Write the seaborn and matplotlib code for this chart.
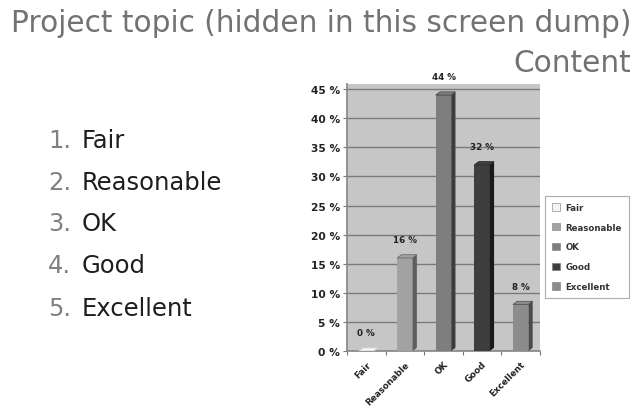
import matplotlib
matplotlib.use("Agg")
import matplotlib.pyplot as plt
from matplotlib.patches import Polygon, Patch
import seaborn as sns

# Survey answers for the "Content" question
categories = ["Fair", "Reasonable", "OK", "Good", "Excellent"]
values = [0, 16, 44, 32, 8]
yticks = [0, 5, 10, 15, 20, 25, 30, 35, 40, 45]
ytick_labels = [f"{v} %" for v in yticks]
list_items = ["Fair", "Reasonable", "OK", "Good", "Excellent"]

front_colors = ["#f4f4f4", "#a2a2a2", "#7e7e7e", "#3e3e3e", "#8c8c8c"]
side_colors = ["#c8c8c8", "#5e5e5e", "#3c3c3c", "#1a1a1a", "#4a4a4a"]

sns.set_theme(style="white")
plt.rcParams["font.family"] = ["DejaVu Sans"]

fig = plt.figure(figsize=(6.36, 4.10), dpi=100)
fig.patch.set_facecolor("white")

# Slide heading
fig.text(0.993, 1 - 32 / 410, "Project topic (hidden in this screen dump)",
         ha="right", va="baseline", fontsize=21.3, color="#727272")
fig.text(0.993, 1 - 72 / 410, "Content", ha="right", va="baseline",
         fontsize=21.3, color="#727272")

# Numbered answer list
list_base = [148, 190, 231, 273, 316]
for i, (item, yp) in enumerate(zip(list_items, list_base)):
    fy = 1 - yp / 410
    fig.text(48 / 636, fy, f"{i + 1}.", ha="left", va="baseline", fontsize=17.5,
             color="#808080")
    fig.text(82 / 636, fy, item, ha="left", va="baseline", fontsize=17.5,
             color="#1e1e1e")

# Bar chart
ax = fig.add_axes([347 / 636, 1 - 352 / 410, (540 - 347) / 636, (352 - 85) / 410])
ax.set_facecolor("#c6c6c6")
sns.barplot(x=categories, y=values, hue=categories, palette=front_colors,
            legend=False, width=0.4, ax=ax, linewidth=0, saturation=1, zorder=3)

ax.set_xlim(-0.5, 4.5)
ax.set_ylim(0, 45.9)
ax.set_yticks(yticks)
ax.set_yticklabels(ytick_labels, fontsize=7.7, fontweight="bold", color="#222222")
ax.yaxis.grid(True, color="#7a7a7a", linewidth=1.0, zorder=0)
ax.set_axisbelow(True)
ax.tick_params(axis="y", length=3, width=0.8, color="#777777", pad=2, left=True)

ax.set_xticks(range(len(categories)))
ax.set_xticklabels(categories, rotation=45, ha="right", rotation_mode="anchor",
                   fontsize=6.3, fontweight="bold", color="#222222")
ax.set_xticks([i + 0.5 for i in range(-1, len(categories))], minor=True)
ax.tick_params(axis="x", which="major", length=0, pad=6)
ax.tick_params(axis="x", which="minor", length=3, width=0.8, color="#777777",
               bottom=True)
ax.set_xlabel("")
ax.set_ylabel("")

for s in ["top", "right"]:
    ax.spines[s].set_visible(False)
ax.spines["left"].set_color("#888888")
ax.spines["bottom"].set_color("#888888")

# Shaded side and top faces give each bar a little depth
depth_x, depth_y = 0.11, 0.55
for patch, sc, fc, v in zip(ax.patches, side_colors, front_colors, values):
    x0 = patch.get_x()
    w = patch.get_width()
    h = patch.get_height()
    x1 = x0 + w
    side = Polygon([(x1, 0), (x1 + depth_x, depth_y), (x1 + depth_x, h + depth_y),
                    (x1, h)], closed=True, facecolor=sc, edgecolor="none", zorder=3)
    top = Polygon([(x0, h), (x0 + depth_x, h + depth_y), (x1 + depth_x, h + depth_y),
                   (x1, h)], closed=True, facecolor=fc, edgecolor=sc,
                  linewidth=0.5, zorder=3)
    ax.add_patch(side)
    ax.add_patch(top)
    ax.annotate(f"{v} %", (x0 + w / 2, h), xytext=(0, 13),
                textcoords="offset points", ha="center", va="center",
                fontsize=6.3, fontweight="bold", color="#222222")

# Legend beside the plot
handles = [Patch(facecolor=c, edgecolor="#777777", linewidth=0.4) for c in front_colors]
leg = fig.legend(handles, categories, loc="center left",
                 bbox_to_anchor=(545 / 636, 1 - 248 / 410), frameon=True,
                 prop={"weight": "bold", "size": 6.2},
                 handlelength=0.9, handleheight=0.9, handletextpad=0.7,
                 labelspacing=1.25, borderpad=0.8, borderaxespad=0, fancybox=False)
leg.get_frame().set_edgecolor("#999999")
leg.get_frame().set_linewidth(0.8)
for t in leg.get_texts():
    t.set_color("#333333")

fig.savefig("out.png", dpi=100, facecolor="white")
